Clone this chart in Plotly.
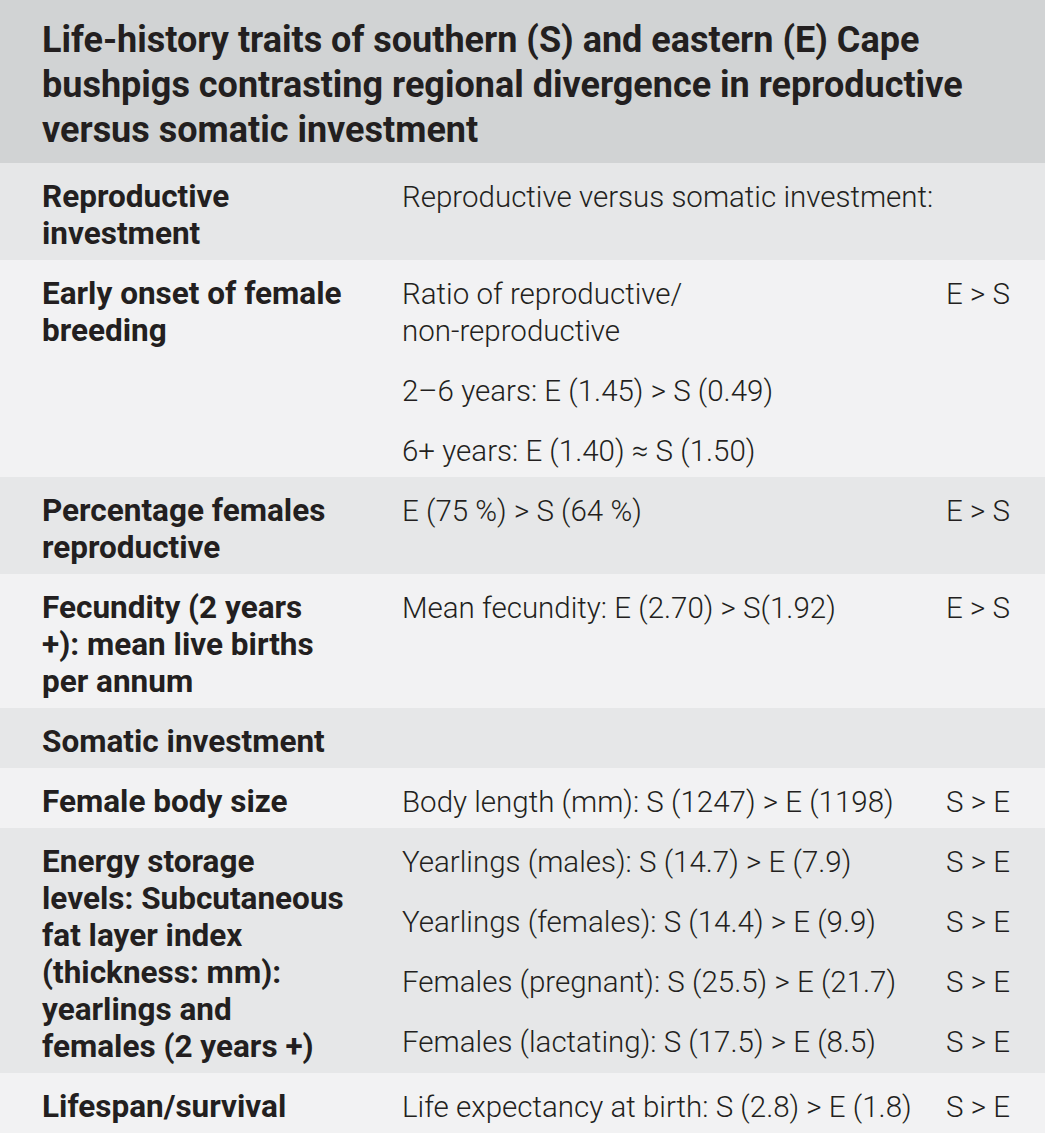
#!/usr/bin/env python
'''Life-history traits table for southern vs eastern Cape bushpigs.'''

import plotly.graph_objects as go

title_lines = [
    'Life-history traits of southern (S) and eastern (E) Cape',
    'bushpigs contrasting regional divergence in reproductive',
    'versus somatic investment',
]

traits = [
    'Reproductive<br>investment',
    'Early onset of female<br>breeding',
    'Percentage females<br>reproductive',
    'Fecundity (2 years<br>+): mean live births<br>per annum',
    'Somatic investment',
    'Female body size',
    'Energy storage<br>levels: Subcutaneous<br>fat layer index<br>'
    '(thickness: mm):<br>yearlings and<br>females (2 years +)',
    'Lifespan/survival',
]

details = [
    ['Reproductive versus somatic investment:'],
    ['Ratio of reproductive/<br>non-reproductive',
     '2–6 years: E (1.45) > S (0.49)',
     '6+ years: E (1.40) ≈ S (1.50)'],
    ['E (75 %) > S (64 %)'],
    ['Mean fecundity: E (2.70) > S(1.92)'],
    [],
    ['Body length (mm): S (1247) > E (1198)'],
    ['Yearlings (males): S (14.7) > E (7.9)',
     'Yearlings (females): S (14.4) > E (9.9)',
     'Females (pregnant): S (25.5) > E (21.7)',
     'Females (lactating): S (17.5) > E (8.5)'],
    ['Life expectancy at birth: S (2.8) > E (1.8)'],
]

verdicts = [
    [''],
    ['E > S', '', ''],
    ['E > S'],
    ['E > S'],
    [],
    ['S > E'],
    ['S > E', 'S > E', 'S > E', 'S > E'],
    ['S > E'],
]

# layout
W, H = 1045, 1134
HEADER_H = 163
LINE = 37
GAP = 23
PAD = 23
FIRST = 44
X_TRAIT, X_DETAIL, X_VERDICT = 40, 400, 944
FONT = 'Roboto'
INK = '#231f20'
HEAD_BG, MID_BG, LIGHT_BG = '#d1d3d4', '#e6e7e8', '#f2f2f3'
TITLE_SIZE, TRAIT_SIZE, BODY_SIZE = 36, 31.5, 29.5

shapes = []
notes = []


def put(x, baseline, text, size, weight):
    '''place one line of text by its baseline'''
    notes.append(dict(
        x=x, y=baseline - 0.34 * size, text=text,
        xanchor='left', yanchor='middle', showarrow=False,
        font=dict(family=FONT, size=size, weight=weight, color=INK),
    ))


def band(y0, y1, color):
    shapes.append(dict(type='rect', xref='x', yref='y', x0=0, x1=W,
                       y0=y0, y1=y1, fillcolor=color, line_width=0,
                       layer='below'))


band(0, HEADER_H, HEAD_BG)
for i, line in enumerate(title_lines):
    put(X_TRAIT, 52 + 45 * i, line, TITLE_SIZE, 700)

top = HEADER_H
for i, trait in enumerate(traits):
    left = trait.split('<br>')
    entries = [e.split('<br>') for e in details[i]]
    det_h = sum(len(e) for e in entries) * LINE + GAP * max(len(entries) - 1, 0)
    row_h = max(len(left) * LINE, det_h) + PAD
    band(top, top + row_h, MID_BG if i % 2 == 0 else LIGHT_BG)

    for k, line in enumerate(left):
        put(X_TRAIT, top + FIRST + k * LINE, line, TRAIT_SIZE, 700)

    y = top + FIRST
    for entry, verdict in zip(entries, verdicts[i]):
        if verdict:
            put(X_VERDICT, y, verdict, BODY_SIZE, 300)
        for line in entry:
            put(X_DETAIL, y, line, BODY_SIZE, 300)
            y += LINE
        y += GAP
    top += row_h

fig = go.Figure()
fig.update_layout(
    width=W, height=H,
    margin=dict(l=0, r=0, t=0, b=0),
    paper_bgcolor='white', plot_bgcolor='white',
    xaxis=dict(range=[0, W], visible=False, fixedrange=True),
    yaxis=dict(range=[H, 0], visible=False, fixedrange=True),
    shapes=shapes, annotations=notes, showlegend=False,
)
fig.write_html('out.html', config={'displayModeBar': False},
               post_script="document.body.style.margin='0';")
